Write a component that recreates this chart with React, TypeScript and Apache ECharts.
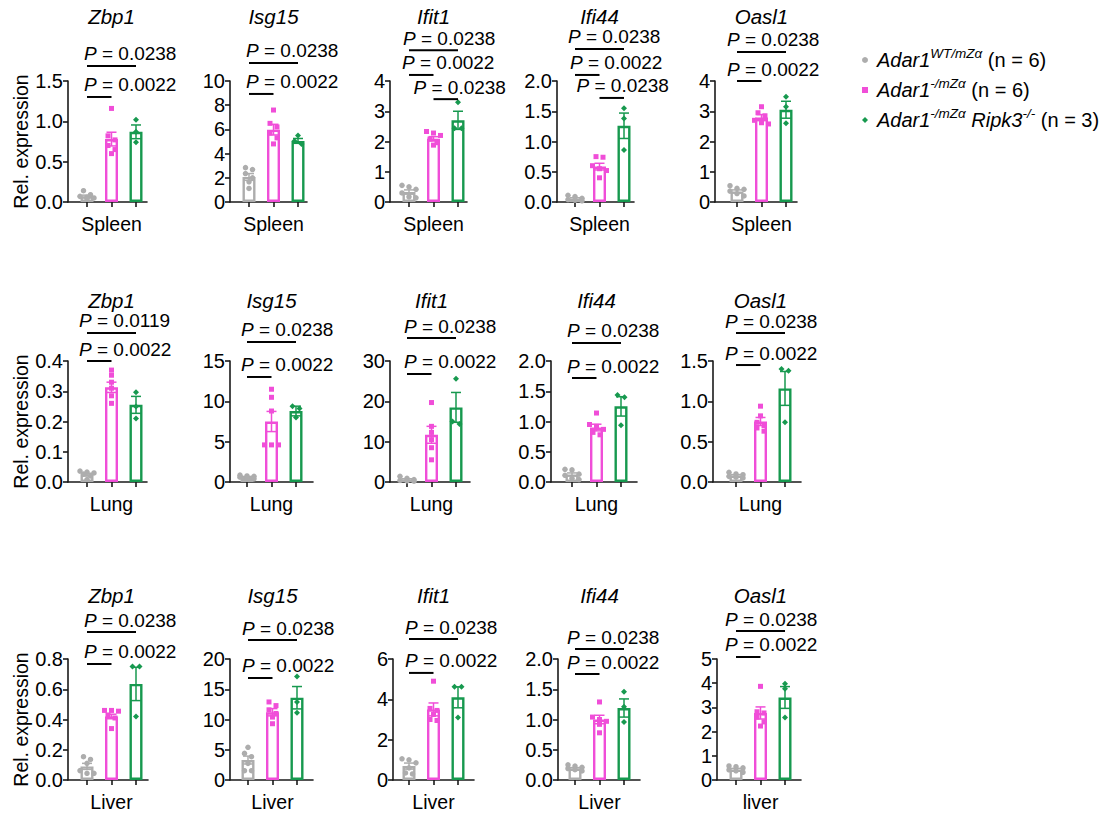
import { useEffect, useRef } from 'react';
import * as echarts from 'echarts';

const FONT = '"Liberation Sans", Arial, Helvetica, sans-serif';

// ---------------- data ----------------
const GENES = ['Zbp1', 'Isg15', 'Ifit1', 'Ifi44', 'Oasl1'];
const TISSUE_LABELS = [
  ['Spleen', 'Spleen', 'Spleen', 'Spleen', 'Spleen'],
  ['Lung', 'Lung', 'Lung', 'Lung', 'Lung'],
  ['Liver', 'Liver', 'Liver', 'Liver', 'liver'],
];
const GROUP_KEYS = ['wt', 'ko', 'dko'];
const GROUP_POS = [1, 2, 3];

const Y_MAX = [[1.5, 10, 4, 2, 4], [0.4, 15, 30, 2, 1.5], [0.8, 20, 6, 2, 5]];
const Y_STEP = [[0.5, 2, 1, 0.5, 1], [0.1, 5, 10, 0.5, 0.5], [0.2, 5, 2, 0.5, 1]];

// bar heights (mean) per gene: [WT/mZa, -/mZa, -/mZa Ripk3-/-]
const SPLEEN_MEANS = [[0.07, 0.78, 0.87], [2.07, 5.98, 5.05], [0.33, 2.09, 2.7], [0.055, 0.585, 1.26], [0.35, 2.79, 3.05]];
const SPLEEN_SEM = [[0.015, 0.085, 0.085], [0.28, 0.44, 0.2], [0.07, 0.07, 0.3], [0.015, 0.055, 0.21], [0.05, 0.1, 0.28]];
const SPLEEN_WT = [
  [0.14, 0.09, 0.07, 0.06, 0.05, 0.04],
  [2.84, 2.68, 2.35, 2.0, 1.67, 1.12],
  [0.55, 0.5, 0.42, 0.3, 0.17, 0.14],
  [0.11, 0.09, 0.06, 0.04, 0.03, 0.02],
  [0.54, 0.45, 0.42, 0.36, 0.28, 0.2],
];
const SPLEEN_KO = [
  [1.16, 0.82, 0.77, 0.7, 0.65, 0.6],
  [7.6, 6.5, 6.2, 5.7, 5.3, 4.8],
  [2.33, 2.28, 2.2, 2.08, 1.96, 1.88],
  [0.75, 0.74, 0.6, 0.55, 0.52, 0.4],
  [3.15, 2.95, 2.85, 2.7, 2.62, 2.58],
];
const SPLEEN_DKO = [
  [1.02, 0.87, 0.74],
  [5.5, 5.05, 4.8],
  [3.3, 2.44, 2.44],
  [1.55, 1.38, 0.86],
  [3.48, 3.15, 2.6],
];

const LUNG_MEANS = [[0.025, 0.313, 0.255], [0.62, 7.5, 8.8], [0.6, 11.7, 18.5], [0.125, 0.9, 1.25], [0.08, 0.75, 1.16]];
const LUNG_SEM = [[0.004, 0.017, 0.028], [0.07, 1.25, 0.6], [0.2, 2.1, 3.7], [0.025, 0.055, 0.16], [0.012, 0.05, 0.21]];
const LUNG_WT = [
  [0.036, 0.033, 0.03, 0.026, 0.02, 0.008],
  [0.85, 0.75, 0.7, 0.6, 0.5, 0.4],
  [1.4, 0.9, 0.6, 0.4, 0.3, 0.2],
  [0.21, 0.2, 0.13, 0.11, 0.06, 0.04],
  [0.12, 0.1, 0.09, 0.07, 0.06, 0.05],
];
const LUNG_KO = [
  [0.37, 0.353, 0.33, 0.31, 0.285, 0.26],
  [11.5, 10.5, 8.8, 4.6, 4.6, 4.6],
  [19.7, 13.8, 12.3, 10.5, 8.5, 5.5],
  [1.14, 0.95, 0.92, 0.87, 0.82, 0.78],
  [0.94, 0.82, 0.74, 0.7, 0.67, 0.63],
];
const LUNG_DKO = [
  [0.297, 0.25, 0.21],
  [9.4, 9.1, 8.0],
  [25.6, 15.0, 14.4],
  [1.44, 1.4, 0.94],
  [1.4, 1.38, 0.74],
];

const LIVER_MEANS = [[0.09, 0.42, 0.635], [3.3, 11.2, 13.6], [0.69, 3.5, 4.1], [0.19, 1.0, 1.19], [0.43, 2.77, 3.41]];
const LIVER_SEM = [[0.02, 0.015, 0.11], [0.65, 0.6, 1.85], [0.15, 0.32, 0.52], [0.015, 0.07, 0.15], [0.05, 0.25, 0.45]];
const LIVER_WT = [
  [0.154, 0.136, 0.11, 0.062, 0.044, 0.044],
  [5.4, 4.4, 3.85, 2.75, 1.54, 1.54],
  [1.05, 1.0, 0.85, 0.6, 0.35, 0.3],
  [0.25, 0.23, 0.21, 0.19, 0.17, 0.15],
  [0.58, 0.55, 0.5, 0.42, 0.38, 0.32],
];
const LIVER_KO = [
  [0.46, 0.46, 0.455, 0.43, 0.41, 0.34],
  [12.9, 12.3, 11.6, 11.0, 10.4, 9.3],
  [4.9, 3.55, 3.45, 3.25, 3.0, 2.95],
  [1.29, 1.04, 1.0, 0.97, 0.92, 0.78],
  [3.87, 2.82, 2.77, 2.6, 2.4, 2.23],
];
const LIVER_DKO = [
  [0.75, 0.75, 0.42],
  [17.1, 12.9, 11.1],
  [4.62, 4.62, 3.1],
  [1.46, 1.21, 0.96],
  [3.98, 3.77, 2.58],
];

// significance brackets: [fromGroupPos, toGroupPos, level (axis units), P value]
type Bracket = [number, number, number, string];
const SPLEEN_P: Bracket[][] = [
  [[1, 3, 1.686, '0.0238'], [1, 2, 1.302, '0.0022']],
  [[1, 3, 11.49, '0.0238'], [1, 2, 8.93, '0.0022']],
  [[1, 3, 5.02, '0.0238'], [1, 2, 4.2, '0.0022'], [2, 3, 3.4, '0.0238']],
  [[1, 3, 2.53, '0.0238'], [1, 2, 2.1, '0.0022'], [2, 3, 1.72, '0.0238']],
  [[1, 3, 4.96, '0.0238'], [1, 2, 4.0, '0.0022']],
];
const LUNG_P: Bracket[][] = [
  [[1, 3, 0.4926, '0.0119'], [1, 2, 0.4, '0.0022']],
  [[1, 3, 17.36, '0.0238'], [1, 2, 13.02, '0.0022']],
  [[1, 3, 35.7, '0.0238'], [1, 2, 26.78, '0.0022']],
  [[1, 3, 2.298, '0.0238'], [1, 2, 1.719, '0.0022']],
  [[1, 3, 1.847, '0.0238'], [1, 2, 1.45, '0.0022']],
];
const LIVER_P: Bracket[][] = [
  [[1, 3, 0.9785, '0.0238'], [1, 2, 0.767, '0.0022']],
  [[1, 3, 23.14, '0.0238'], [1, 2, 16.86, '0.0022']],
  [[1, 3, 6.99, '0.0238'], [1, 2, 5.31, '0.0022']],
  [[1, 3, 2.165, '0.0238'], [1, 2, 1.752, '0.0022']],
  [[1, 3, 6.157, '0.0238'], [1, 2, 5.083, '0.0022']],
];

const MEANS = [SPLEEN_MEANS, LUNG_MEANS, LIVER_MEANS];
const SEMS = [SPLEEN_SEM, LUNG_SEM, LIVER_SEM];
const POINTS = [
  [SPLEEN_WT, SPLEEN_KO, SPLEEN_DKO],
  [LUNG_WT, LUNG_KO, LUNG_DKO],
  [LIVER_WT, LIVER_KO, LIVER_DKO],
];
const BRACKETS = [SPLEEN_P, LUNG_P, LIVER_P];

const LEGEND_TEXT: Record<string, string> = {
  wt: '{a|Adar1}{s|WT/mZα}{n| (n = 6)}',
  ko: '{a|Adar1}{s|-/mZα}{n| (n = 6)}',
  dko: '{a|Adar1}{s|-/mZα}{n| }{i|Ripk3}{s|-/-}{n| (n = 3)}',
};

// ---------------- layout / style ----------------
const PLOT_H = 121;
const ROW_TOP = [81, 361, 659];
const TITLE_Y = [16, 300, 595];
const PANEL_X = [[68, 230, 390, 557, 715], [68, 230, 390, 551, 713], [68, 230, 393, 558, 717]];
const TICK_GAP = [[19, 19, 19, 18, 22], [19, 17, 17, 21, 23], [19, 18, 16, 17, 19]];
const AXIS_LEN = [[79, 77, 77, 77, 82], [79, 83, 80, 86, 88], [80, 83, 81, 82, 84]];
const UNIT_PX = 24.5;
const P_DX = [
  [[-3, -3], [-3, -3], [-6, -7, -20], [-7, -5, -23], [-10, -10]],
  [[-8, -8], [-6, -6], [-3, -3], [-5, -5], [-11, -11]],
  [[-3, -3], [-6, -6], [-4, -4], [-8, -8], [-11, -11]],
];
const COLORS = ['#adadad', '#f04ed8', '#17994f'];
const SYMBOLS = ['circle', 'rect', 'diamond'];
const SYMBOL_SIZE = [5.5, 5, 6];
const AXIS_COLOR = '#1a1a1a';
const SWARM_ROW_PX = 5;
const SWARM_DX_PX = 7;

function swarm(values: number[], pos: number, pxPerUnit: number): number[][] {
  const sorted = [...values].sort((a, b) => b - a);
  const rows: number[][] = [];
  for (const v of sorted) {
    const row = rows[rows.length - 1];
    if (row && (row[0] - v) * pxPerUnit < SWARM_ROW_PX && row.length < 3) row.push(v);
    else rows.push([v]);
  }
  const out: number[][] = [];
  rows.forEach((row) =>
    row.forEach((v, k) => out.push([pos + ((k - (row.length - 1) / 2) * SWARM_DX_PX) / UNIT_PX, v]))
  );
  return out;
}

function buildOption() {
  const grid: any[] = [];
  const xAxis: any[] = [];
  const yAxis: any[] = [];
  const series: any[] = [];
  const graphic: any[] = [];
  const lineStyle = { color: AXIS_COLOR, width: 1.6 };

  for (let r = 0; r < 3; r++) {
    for (let c = 0; c < 5; c++) {
      const k = r * 5 + c;
      const left = PANEL_X[r][c];
      const len = AXIS_LEN[r][c];
      const xmin = 1 - TICK_GAP[r][c] / UNIT_PX;
      const xmax = xmin + len / UNIT_PX;
      const ymax = Y_MAX[r][c];
      const step = Y_STEP[r][c];
      const dec = step < 1 ? 1 : 0;
      const tissue = TISSUE_LABELS[r][c];

      grid.push({ left, top: ROW_TOP[r], width: len, height: PLOT_H });
      xAxis.push({
        gridIndex: k,
        type: 'value',
        min: xmin,
        max: xmax,
        axisLine: { show: true, onZero: false, lineStyle },
        axisTick: { show: true, length: 5, customValues: GROUP_POS, lineStyle },
        axisLabel: {
          show: true,
          customValues: [2],
          formatter: () => tissue,
          fontFamily: FONT,
          fontSize: 19.5,
          color: '#000',
          margin: 12,
        },
        splitLine: { show: false },
      });
      yAxis.push({
        gridIndex: k,
        type: 'value',
        min: 0,
        max: ymax,
        interval: step,
        axisLine: { show: true, onZero: false, lineStyle },
        axisTick: { show: true, length: 5, lineStyle },
        axisLabel: {
          formatter: (v: number) => v.toFixed(dec),
          fontFamily: FONT,
          fontSize: 20,
          color: '#000',
          margin: 5,
        },
        splitLine: { show: false },
        ...(c === 0
          ? {
              name: 'Rel. expression',
              nameLocation: 'middle',
              nameGap: 36,
              nameTextStyle: { fontFamily: FONT, fontSize: 19.5, color: '#000' },
            }
          : {}),
      });

      const means = MEANS[r][c];
      const sems = SEMS[r][c];
      series.push({
        type: 'bar',
        name: 'bars-' + k,
        xAxisIndex: k,
        yAxisIndex: k,
        barWidth: 13,
        silent: true,
        z: 2,
        data: means.map((m, g) => ({
          value: [GROUP_POS[g], m],
          itemStyle: { color: '#ffffff', borderColor: COLORS[g], borderWidth: 2.4 },
        })),
      });
      series.push({
        type: 'custom',
        name: 'sem-' + k,
        xAxisIndex: k,
        yAxisIndex: k,
        z: 3,
        silent: true,
        clip: false,
        data: means.map((m, g) => [GROUP_POS[g], m, sems[g]]),
        renderItem: (params: any, api: any) => {
          const x = api.value(0);
          const m = api.value(1);
          const s = api.value(2);
          const t = api.coord([x, m + s]);
          const b = api.coord([x, m - s]);
          const col = COLORS[params.dataIndex];
          const st = { stroke: col, lineWidth: 1.5 };
          const hw = 5;
          return {
            type: 'group',
            children: [
              { type: 'line', shape: { x1: t[0], y1: t[1], x2: b[0], y2: b[1] }, style: st },
              { type: 'line', shape: { x1: t[0] - hw, y1: t[1], x2: t[0] + hw, y2: t[1] }, style: st },
              { type: 'line', shape: { x1: b[0] - hw, y1: b[1], x2: b[0] + hw, y2: b[1] }, style: st },
            ],
          };
        },
      });
      for (let g = 0; g < 3; g++) {
        series.push({
          type: 'scatter',
          name: GROUP_KEYS[g],
          xAxisIndex: k,
          yAxisIndex: k,
          z: 4,
          silent: true,
          symbol: SYMBOLS[g],
          symbolSize: SYMBOL_SIZE[g],
          itemStyle: { color: COLORS[g], opacity: 1 },
          data: swarm(POINTS[r][g][c], GROUP_POS[g], PLOT_H / ymax),
        });
      }
      const brackets = BRACKETS[r][c];
      const dxs = P_DX[r][c];
      series.push({
        type: 'custom',
        name: 'p-' + k,
        xAxisIndex: k,
        yAxisIndex: k,
        z: 5,
        silent: true,
        clip: false,
        data: brackets.map((b) => [b[0], b[2], b[1]]),
        renderItem: (params: any, api: any) => {
          const b = brackets[params.dataIndex];
          const p1 = api.coord([api.value(0), api.value(1)]);
          const p2 = api.coord([api.value(2), api.value(1)]);
          return {
            type: 'group',
            children: [
              {
                type: 'line',
                shape: { x1: p1[0], y1: p1[1], x2: p2[0], y2: p2[1] },
                style: { stroke: '#000', lineWidth: 2 },
              },
              {
                type: 'text',
                x: p1[0] + dxs[params.dataIndex],
                y: p1[1] - 12,
                style: {
                  text: '{i|P} = ' + b[3],
                  fontFamily: FONT,
                  fontSize: 19,
                  lineHeight: 19,
                  fill: '#000',
                  align: 'left',
                  verticalAlign: 'middle',
                  rich: { i: { fontStyle: 'italic', fontFamily: FONT, fontSize: 19, lineHeight: 19, fill: '#000' } },
                },
              },
            ],
          };
        },
      });

      graphic.push({
        type: 'text',
        x: left + TICK_GAP[r][c] + UNIT_PX,
        y: TITLE_Y[r],
        silent: true,
        style: {
          text: GENES[c],
          fontFamily: FONT,
          fontSize: 20.5,
          lineHeight: 20,
          fontStyle: 'italic',
          fill: '#000',
          align: 'center',
          verticalAlign: 'middle',
          textAlign: 'center',
          textVerticalAlign: 'middle',
        },
      });
    }
  }

  return {
    animation: false,
    backgroundColor: '#ffffff',
    grid,
    xAxis,
    yAxis,
    series,
    graphic,
    legend: {
      orient: 'vertical',
      left: 857,
      top: 41,
      itemWidth: 6,
      itemHeight: 6,
      itemGap: 6,
      selectedMode: false,
      data: GROUP_KEYS,
      formatter: (name: string) => LEGEND_TEXT[name],
      textStyle: {
        fontFamily: FONT,
        fontSize: 20,
        color: '#000',
        rich: {
          a: { fontStyle: 'italic', fontFamily: FONT, fontSize: 20, lineHeight: 28, color: '#000', padding: [0, 0, 0, 4] },
          i: { fontStyle: 'italic', fontFamily: FONT, fontSize: 20, lineHeight: 28, color: '#000' },
          n: { fontFamily: FONT, fontSize: 20, lineHeight: 28, color: '#000' },
          s: { fontStyle: 'italic', fontFamily: FONT, fontSize: 13.5, lineHeight: 14, verticalAlign: 'top', color: '#000' },
        },
      },
    },
  };
}

export default function App() {
  const ref = useRef<HTMLDivElement>(null);
  useEffect(() => {
    if (!ref.current) return;
    const chart = echarts.init(ref.current, undefined, { renderer: 'svg' });
    chart.setOption(buildOption() as any);
    return () => chart.dispose();
  }, []);
  return (
    <div
      ref={ref}
      style={{ position: 'fixed', left: 0, top: 0, width: 1107, height: 818, background: '#fff' }}
    />
  );
}
